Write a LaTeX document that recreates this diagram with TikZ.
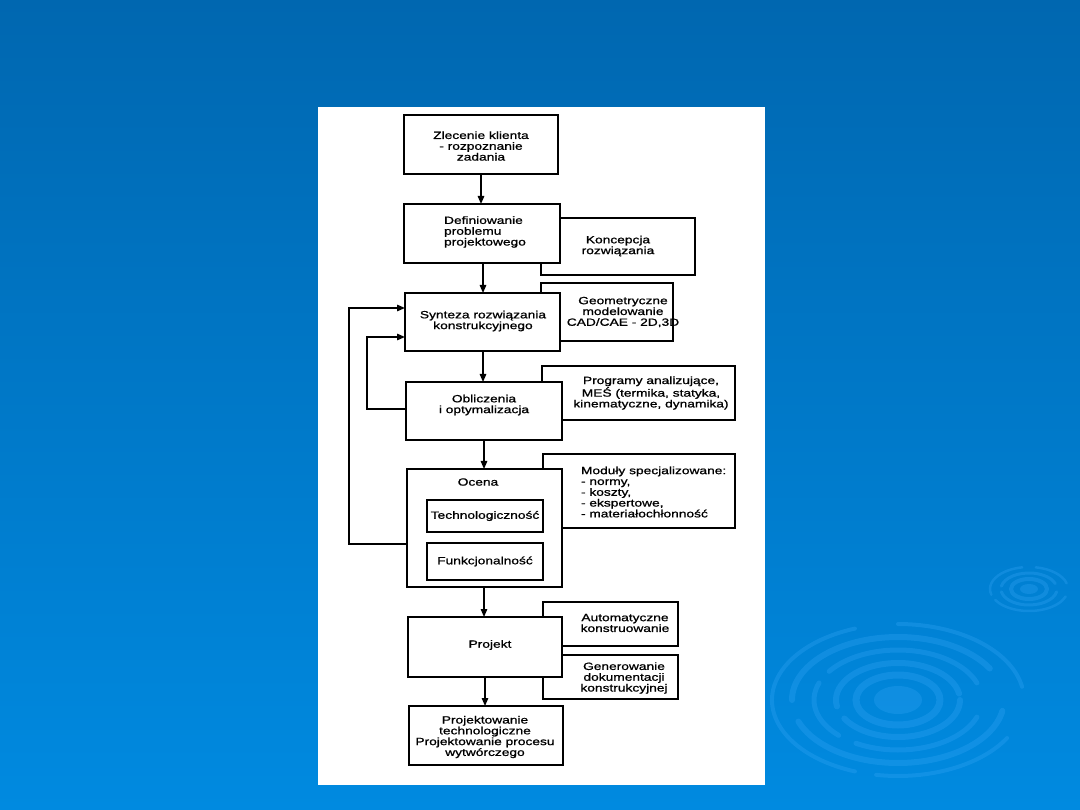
\documentclass[tikz,border=0pt]{standalone}
\usepackage{fontspec}
\setmainfont{Liberation Sans}[FakeStretch=1.31,FakeBold=1.0]
\usetikzlibrary{arrows.meta}
\definecolor{bgtop}{RGB}{0,103,176}
\definecolor{bgmid}{RGB}{0,116,196}
\definecolor{bgbot}{RGB}{0,138,224}
\definecolor{ripc}{RGB}{50,165,245}
\newcommand\diagfont{\fontsize{10.5}{10.8}\selectfont}
\begin{document}
\begin{tikzpicture}[x=1pt,y=-1pt,
  mbox/.style={draw=black, fill=white, line width=1.4pt, inner sep=0pt, outer sep=0pt},
  txt/.style={inner sep=0pt, outer sep=0pt, align=center, font=\diagfont, text=black},
  conn/.style={draw=black, line width=1.4pt},
  arrow/.style={conn, -{Triangle[length=8pt,width=6.5pt]}},
  rip/.style={draw=ripc, opacity=0.32, line cap=round},
  ripfill/.style={fill=ripc, opacity=0.3}]
\useasboundingbox (0,0) rectangle (1080,810);
% background
\shade[top color=bgtop, middle color=bgmid, bottom color=bgbot] (0,0) rectangle (1080,810);
% ripples
\foreach \rx/\ry/\a/\b/\w in {190/50/10/170/4, 230/62/20/80/4, 230/62/100/165/4}
  \draw[rip, line width=\w pt] (600,830) ++({\rx*cos(\a)},{\ry*sin(\a)}) arc[start angle=\a, end angle=\b, x radius=\rx, y radius=\ry];
\fill[ripfill] (898,700) ellipse [x radius=24, y radius=14];
\foreach \rx/\ry/\a/\b/\w in {42/25/0/360/7, 62/37/0/150/6, 62/37/170/350/6,
   84/50/20/120/5, 84/50/135/200/5, 84/50/215/340/5,
   106/63/10/160/6, 106/63/180/330/6,
   126/76/30/100/4, 126/76/110/250/4, 126/76/270/350/4}
  \draw[rip, line width=\w pt] (898,700) ++({\rx*cos(\a)},{\ry*sin(\a)}) arc[start angle=\a, end angle=\b, x radius=\rx, y radius=\ry];
\fill[ripfill] (1029,589) ellipse [x radius=9, y radius=5];
\foreach \rx/\ry/\a/\b/\w in {18/10/0/360/4, 28/16/10/170/3, 28/16/190/340/3,
   39/22/20/150/2.5, 39/22/165/260/2.5, 39/22/280/345/2.5}
  \draw[rip, line width=\w pt] (1029,589) ++({\rx*cos(\a)},{\ry*sin(\a)}) arc[start angle=\a, end angle=\b, x radius=\rx, y radius=\ry];
% white panel
\fill[white] (318,107) rectangle (765,785);
% side boxes (behind)
\node[mbox, minimum width=154pt, minimum height=57pt] (s1) at (618,246.5) {};
\node[mbox, minimum width=132pt, minimum height=58pt] (s2) at (607,312) {};
\node[mbox, minimum width=193pt, minimum height=54pt] (s3) at (638.5,393) {};
\node[mbox, minimum width=192pt, minimum height=74pt] (s4) at (639,491) {};
\node[mbox, minimum width=135pt, minimum height=44pt] (s5) at (610.5,624) {};
\node[mbox, minimum width=135pt, minimum height=44pt] (s6) at (610.5,677) {};
% main boxes
\node[mbox, minimum width=154pt, minimum height=59pt] (b1) at (481,144.5) {};
\node[mbox, minimum width=156pt, minimum height=59pt] (b2) at (482,233.5) {};
\node[mbox, minimum width=155pt, minimum height=58pt] (b3) at (482.5,322) {};
\node[mbox, minimum width=156pt, minimum height=58pt] (b4) at (484,411) {};
\node[mbox, minimum width=155pt, minimum height=118pt] (b5) at (484.5,528) {};
\node[mbox, minimum width=116pt, minimum height=32pt] (tech) at (485,516) {};
\node[mbox, minimum width=116pt, minimum height=37pt] (funk) at (485,561.5) {};
\node[mbox, minimum width=154pt, minimum height=60pt] (b6) at (485,647) {};
\node[mbox, minimum width=154pt, minimum height=59pt] (b7) at (486,735.5) {};
% texts
\node[txt] (t1) at (481,146) {Zlecenie klienta\\- rozpoznanie\\zadania};
\node[txt, align=left] (t2) at (485,232) {Definiowanie\\problemu\\projektowego};
\node[txt] (t3) at (483,321) {Synteza rozwiązania\\konstrukcyjnego};
\node[txt] (t4) at (484,405) {Obliczenia\\i optymalizacja};
\node[txt] (t5) at (478,482) {Ocena};
\node[txt] (t5a) at (tech) {Technologiczność};
\node[txt] (t5b) at (funk) {Funkcjonalność};
\node[txt] (t6) at (490,645) {Projekt};
\node[txt] (t7) at (485,737) {Projektowanie\\technologiczne\\Projektowanie procesu\\wytwórczego};
\node[txt] (ts1) at (618,246) {Koncepcja\\rozwiązania};
\node[txt] (ts2) at (623,312) {Geometryczne\\modelowanie\\CAD/CAE - 2D,3D};
\node[txt] (ts3) at (651,393) {Programy analizujące,\\MEŚ (termika, statyka,\\kinematyczne, dynamika)};
\node[txt, align=left, anchor=west] (ts4) at (581,492) {Moduły specjalizowane:\\- normy,\\- koszty,\\- ekspertowe,\\- materiałochłonność};
\node[txt] (ts5) at (625,623) {Automatyczne\\konstruowanie};
\node[txt] (ts6) at (624,678) {Generowanie\\dokumentacji\\konstrukcyjnej};
% main flow arrows
\draw[arrow] (b1.south) -- (b1.south |- b2.north);
\draw[arrow] ([xshift=1pt]b2.south) -- ([xshift=1pt]b2.south |- b3.north);
\draw[arrow] ([xshift=0.5pt]b3.south) -- ([xshift=0.5pt]b3.south |- b4.north);
\draw[arrow] (b4.south) -- (b4.south |- b5.north);
\draw[arrow] ([xshift=-0.5pt]b5.south) -- ([xshift=-0.5pt]b5.south |- b6.north);
\draw[arrow] (b6.south) -- (b6.south |- b7.north);
% feedback loops
\draw[arrow] ([yshift=2pt]b4.west) -- ++(-39,0) |- ([yshift=-15pt]b3.west);
\draw[arrow] ([yshift=-16pt]b5.west) -- ++(-58,0) |- ([yshift=14pt]b3.west);
\end{tikzpicture}
\end{document}
